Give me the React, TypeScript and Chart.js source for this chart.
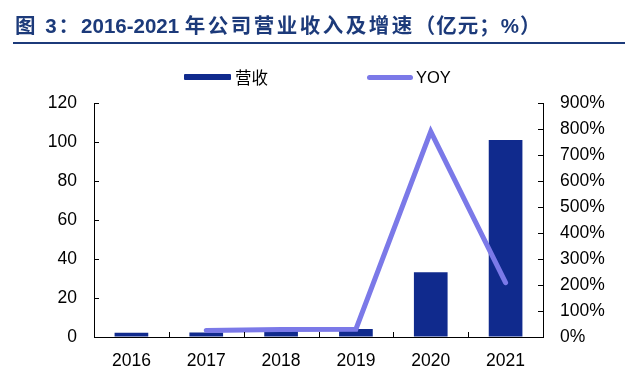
import React, { useEffect, useRef } from "react";
import { Chart, registerables } from "chart.js";

Chart.register(...registerables);

const categories = ["2016", "2017", "2018", "2019", "2020", "2021"];
const revenue = [2.2, 2.3, 3.2, 4.1, 33.2, 101.0];
const yoy = [null, 25, 29, 30, 790, 209];
const leftTicks = [0, 20, 40, 60, 80, 100, 120];
const rightTicks = [0, 100, 200, 300, 400, 500, 600, 700, 800, 900];

const BAR_COLOR = "#102a8d";
const LINE_COLOR = "#7b79e8";
const TITLE_COLOR = "#1c3a7a";
const TICK_FONT = { family: "'Liberation Sans', Arial, 'Noto Sans CJK SC', sans-serif", size: 17.5 };

const inwardTicks = {
  id: "inwardTicks",
  afterDraw(chart: any) {
    const { ctx, chartArea, scales } = chart;
    ctx.save();
    ctx.strokeStyle = "#000";
    ctx.lineWidth = 1;
    const len = 5;
    scales.y.ticks.forEach((t: any) => {
      const p = Math.round(scales.y.getPixelForValue(t.value)) + 0.5;
      ctx.beginPath();
      ctx.moveTo(chartArea.left, p);
      ctx.lineTo(chartArea.left + len, p);
      ctx.stroke();
    });
    scales.y1.ticks.forEach((t: any) => {
      const p = Math.round(scales.y1.getPixelForValue(t.value)) + 0.5;
      ctx.beginPath();
      ctx.moveTo(chartArea.right - len, p);
      ctx.lineTo(chartArea.right, p);
      ctx.stroke();
    });
    for (let i = 1; i < categories.length; i++) {
      const p = Math.round(scales.x.getPixelForValue(i - 0.5)) + 0.5;
      ctx.beginPath();
      ctx.moveTo(p, chartArea.bottom);
      ctx.lineTo(p, chartArea.bottom - len);
      ctx.stroke();
    }
    ctx.restore();
  },
};

export default function App() {
  const canvasRef = useRef<HTMLCanvasElement | null>(null);

  useEffect(() => {
    document.body.style.margin = "0";
    const canvas = canvasRef.current;
    if (!canvas) return;
    const chart = new Chart(canvas, {
      type: "bar",
      data: {
        labels: categories,
        datasets: [
          {
            type: "line",
            label: "YOY",
            data: yoy as any,
            yAxisID: "y1",
            borderColor: LINE_COLOR,
            backgroundColor: LINE_COLOR,
            borderWidth: 5,
            borderCapStyle: "round",
            borderJoinStyle: "miter",
            pointRadius: 0,
            tension: 0,
            order: 0,
          } as any,
          {
            type: "bar",
            label: "营收",
            data: revenue,
            yAxisID: "y",
            backgroundColor: BAR_COLOR,
            borderWidth: 0,
            barPercentage: 0.45,
            categoryPercentage: 1,
            order: 1,
          },
        ],
      },
      options: {
        responsive: false,
        animation: false,
        devicePixelRatio: 1,
        layout: { padding: { top: 103, left: 0, right: 0, bottom: 0 } },
        plugins: {
          legend: { display: false },
          tooltip: { enabled: false },
        },
        scales: {
          x: {
            grid: { display: false, drawTicks: false },
            border: { display: true, color: "#000", width: 1 },
            ticks: { color: "#000", font: TICK_FONT, padding: 14 },
            afterFit(scale: any) {
              scale.height = 49;
            },
          },
          y: {
            position: "left",
            min: 0,
            max: 120,
            afterBuildTicks(scale: any) {
              scale.ticks = leftTicks.map((v) => ({ value: v }));
            },
            grid: { drawOnChartArea: false, drawTicks: false },
            border: { display: true, color: "#000", width: 1 },
            ticks: { color: "#000", font: TICK_FONT, padding: 17 },
            afterFit(scale: any) {
              scale.width = 94;
            },
          },
          y1: {
            position: "right",
            min: 0,
            max: 900,
            afterBuildTicks(scale: any) {
              scale.ticks = rightTicks.map((v) => ({ value: v }));
            },
            grid: { drawOnChartArea: false, drawTicks: false },
            border: { display: true, color: "#000", width: 1 },
            ticks: {
              color: "#000",
              font: TICK_FONT,
              padding: 17,
              callback: (v: any) => `${v}%`,
            },
            afterFit(scale: any) {
              scale.width = 97;
            },
          },
        },
      } as any,
      plugins: [inwardTicks],
    });
    return () => chart.destroy();
  }, []);

  const cjk = "'Liberation Sans', Arial, 'Noto Sans CJK SC', sans-serif";
  return (
    <div style={{ position: "relative", width: 640, height: 386, background: "#fff", overflow: "hidden" }}>
      <canvas ref={canvasRef} width={640} height={386} style={{ position: "absolute", left: 0, top: 0 }} />
      <div
        style={{
          position: "absolute",
          left: 15,
          top: 12,
          fontFamily: cjk,
          fontWeight: "bold",
          fontSize: 20.5,
          lineHeight: "28px",
          color: TITLE_COLOR,
          whiteSpace: "nowrap",
        }}
      >
        <span style={{ letterSpacing: 2 }}>图 3：</span>
        <span>2016-2021 </span>
        <span style={{ letterSpacing: 2.5 }}>年公司营业收入及增速</span>
        <span style={{ letterSpacing: 1 }}>（亿元；%）</span>
      </div>
      <div
        style={{
          position: "absolute",
          left: 13,
          top: 42,
          width: 612,
          height: 2,
          background: TITLE_COLOR,
        }}
      />
      <div
        style={{
          position: "absolute",
          left: 184,
          top: 65,
          height: 24,
          display: "flex",
          alignItems: "center",
          fontFamily: cjk,
          fontSize: 16.5,
          color: "#000",
        }}
      >
        <span style={{ display: "inline-block", width: 47, height: 6, background: BAR_COLOR, borderRadius: 1, marginRight: 4 }} />
        <span>营收</span>
      </div>
      <div
        style={{
          position: "absolute",
          left: 367,
          top: 65,
          height: 24,
          display: "flex",
          alignItems: "center",
          fontFamily: cjk,
          fontSize: 16.5,
          color: "#000",
        }}
      >
        <span style={{ display: "inline-block", width: 46, height: 5, background: LINE_COLOR, borderRadius: 3, marginRight: 3 }} />
        <span>YOY</span>
      </div>
    </div>
  );
}
